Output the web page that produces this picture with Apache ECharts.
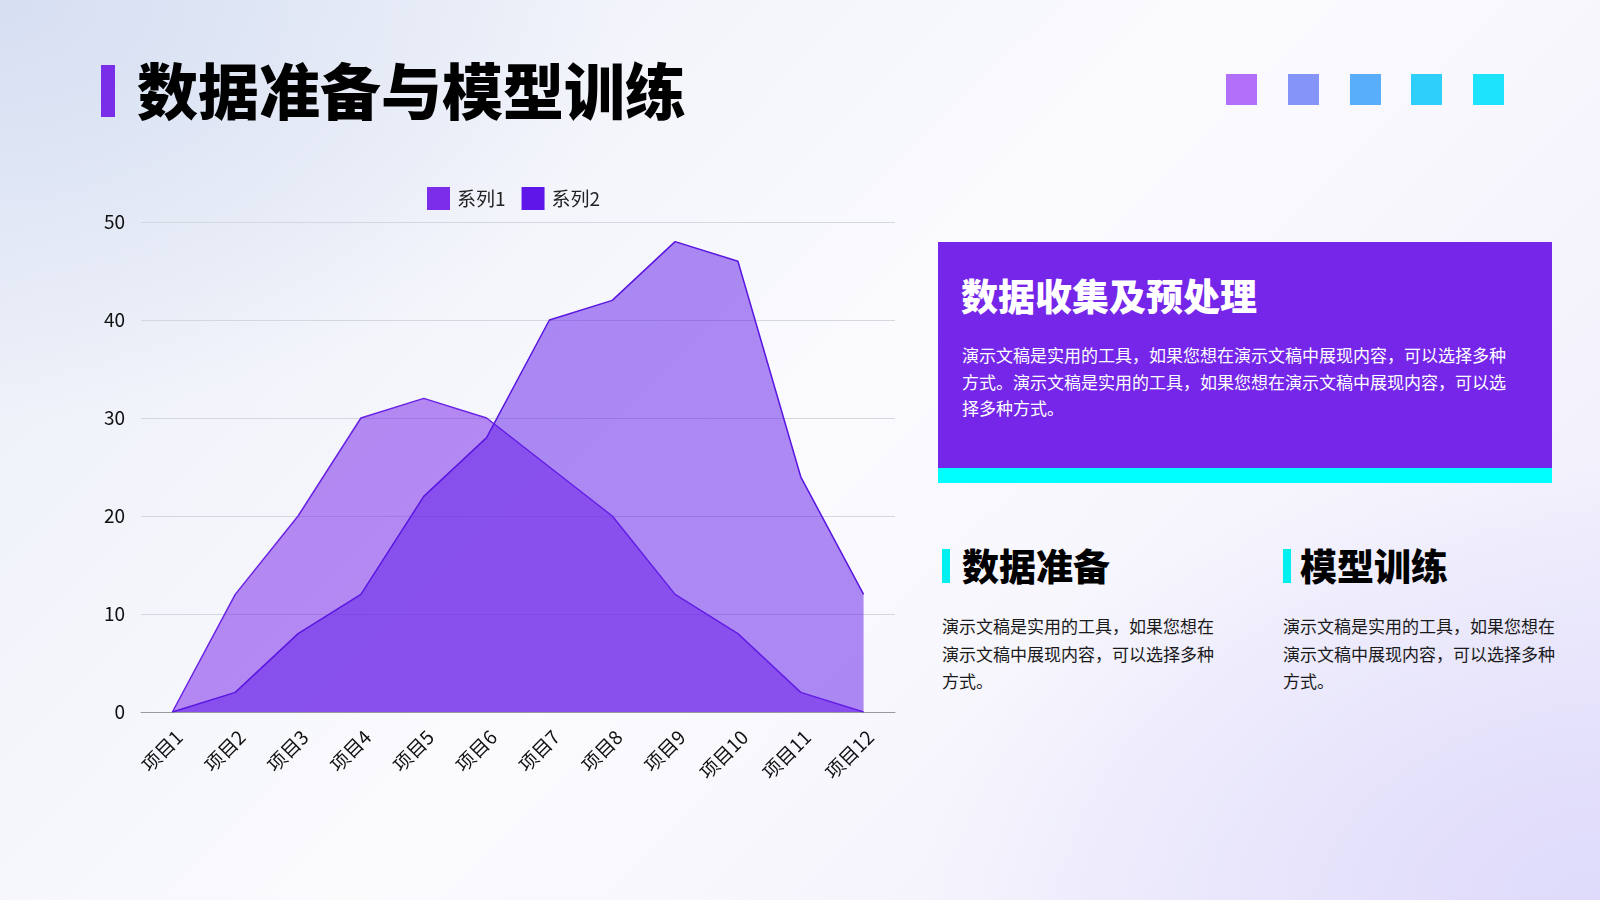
<!DOCTYPE html>
<html>
<head>
<meta charset="utf-8">
<script src="https://cdn.jsdelivr.net/npm/echarts@6/dist/echarts.min.js"></script>
<style>
  html, body { margin:0; padding:0; width:1600px; height:900px; overflow:hidden; }
  body {
    font-family: "Noto Sans CJK SC", "Noto Sans", sans-serif;
    background:
      radial-gradient(ellipse 900px 600px at 0% 0%, rgba(214,223,242,1) 0%, rgba(214,223,242,0) 70%),
      radial-gradient(ellipse 900px 600px at 100% 100%, rgba(222,218,251,1) 0%, rgba(222,218,251,0) 75%),
      linear-gradient(135deg, #e9edf7 0%, #fbfbfe 50%, #eeecfb 100%);
    position: relative;
  }
  #chart { position:absolute; left:0; top:0; width:1600px; height:900px; }
  .abs { position:absolute; }
  .sq { position:absolute; top:74px; width:31px; height:31px; }
</style>
</head>
<body>
<div class="abs" style="left:101px;top:65px;width:14px;height:52px;background:#7a2ee8;"></div>
<div class="abs" style="left:137px;top:54px;height:70px;line-height:70px;font-size:61px;font-weight:900;color:#000;white-space:nowrap;">数据准备与模型训练</div>

<div class="sq" style="left:1226px;background:#b26ff8;"></div>
<div class="sq" style="left:1288px;background:#8494f9;"></div>
<div class="sq" style="left:1350px;background:#58aefb;"></div>
<div class="sq" style="left:1411px;background:#2ecffb;"></div>
<div class="sq" style="left:1473px;background:#1de4fc;"></div>

<div class="abs" style="left:938px;top:242px;width:614px;height:226px;background:#7526e9;"></div>
<div class="abs" style="left:938px;top:468px;width:614px;height:15px;background:#00ffff;"></div>
<div class="abs" style="left:961px;top:273px;height:44px;line-height:44px;font-size:37px;font-weight:900;color:#fff;white-space:nowrap;">数据收集及预处理</div>
<div class="abs" style="left:962px;top:342px;font-size:17px;line-height:26.5px;color:#fff;white-space:nowrap;">演示文稿是实用的工具，如果您想在演示文稿中展现内容，可以选择多种<br>方式。演示文稿是实用的工具，如果您想在演示文稿中展现内容，可以选<br>择多种方式。</div>

<div class="abs" style="left:942px;top:549px;width:8px;height:34px;background:#00f0f0;"></div>
<div class="abs" style="left:962px;top:543px;height:44px;line-height:44px;font-size:37px;font-weight:900;color:#000;white-space:nowrap;">数据准备</div>
<div class="abs" style="left:942px;top:612px;font-size:17px;line-height:27.5px;color:#1a1a1a;white-space:nowrap;">演示文稿是实用的工具，如果您想在<br>演示文稿中展现内容，可以选择多种<br>方式。</div>

<div class="abs" style="left:1283px;top:549px;width:8px;height:34px;background:#00f0f0;"></div>
<div class="abs" style="left:1300px;top:543px;height:44px;line-height:44px;font-size:37px;font-weight:900;color:#000;white-space:nowrap;">模型训练</div>
<div class="abs" style="left:1283px;top:612px;font-size:17px;line-height:27.5px;color:#1a1a1a;white-space:nowrap;">演示文稿是实用的工具，如果您想在<br>演示文稿中展现内容，可以选择多种<br>方式。</div>

<div id="chart"></div>
<script>
const categories = ['项目1','项目2','项目3','项目4','项目5','项目6','项目7','项目8','项目9','项目10','项目11','项目12'];
const seriesNames = ['系列1','系列2'];
const series1 = [0, 12, 20, 30, 32, 30, 25, 20, 12, 8, 2, 0];
const series2 = [0, 2, 8, 12, 22, 28, 40, 42, 48, 46, 24, 12];
const yTicks = { min: 0, max: 50, interval: 10 };

const chart = echarts.init(document.getElementById('chart'), null, { renderer: 'canvas' });
const font = '"Noto Sans CJK SC", "Noto Sans", sans-serif';
chart.setOption({
  backgroundColor: 'transparent',
  animation: false,
  textStyle: { fontFamily: font },
  legend: {
    left: 422, top: 182,
    itemWidth: 23, itemHeight: 23, itemGap: 16,
    icon: 'rect',
    textStyle: { fontSize: 19, color: '#222', fontFamily: font, padding: [0, 0, 0, 2] },
    data: seriesNames
  },
  grid: { left: 141, right: 705, top: 222, bottom: 188, containLabel: false },
  xAxis: {
    type: 'category',
    data: categories,
    boundaryGap: true,
    axisLine: { show: true, lineStyle: { color: '#9a9a9a', width: 1 } },
    axisTick: { show: false },
    axisLabel: {
      rotate: 45, interval: 0, margin: 15, fontSize: 19, color: '#111',
      verticalAlign: 'top', fontFamily: font
    },
    splitLine: { show: false }
  },
  yAxis: {
    type: 'value',
    min: yTicks.min, max: yTicks.max, interval: yTicks.interval,
    axisLine: { show: false },
    axisTick: { show: false },
    axisLabel: { fontSize: 19, color: '#111', margin: 16, fontFamily: font },
    splitLine: { lineStyle: { color: '#d3d7e0', width: 1 } }
  },
  series: [
    {
      name: seriesNames[0], type: 'line', data: series1,
      symbol: 'none',
      itemStyle: { color: '#7b2de9' },
      lineStyle: { color: '#6a22e4', width: 1.5 },
      areaStyle: { color: '#7b2de9', opacity: 0.55 },
      z: 2
    },
    {
      name: seriesNames[1], type: 'line', data: series2,
      symbol: 'none',
      itemStyle: { color: '#5e17e8' },
      lineStyle: { color: '#5a16e0', width: 1.5 },
      areaStyle: { color: '#5e17e8', opacity: 0.5 },
      z: 3
    }
  ]
});
</script>
</body>
</html>
